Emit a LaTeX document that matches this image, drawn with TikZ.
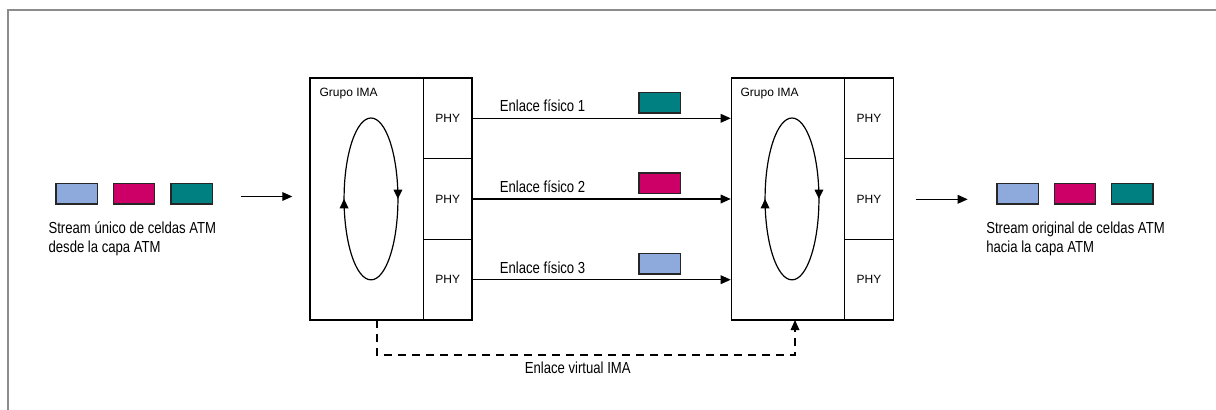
\documentclass[tikz,border=0pt]{standalone}
\usepackage{fontspec}
\setmainfont{Liberation Sans}
\newfontfamily\narrowsans[FakeStretch=0.82]{Liberation Sans}
\usetikzlibrary{arrows.meta,decorations.markings}
\definecolor{cellblue}{RGB}{142,170,220}
\definecolor{cellmag}{RGB}{204,0,102}
\definecolor{cellteal}{RGB}{0,128,128}
\definecolor{framegray}{RGB}{140,140,140}
\begin{document}
\begin{tikzpicture}[x=0.75pt,y=-0.75pt,
  tip/.style={-{Triangle[length=7.5pt,width=6.5pt]}},
  box/.style={draw=black,line width=0.9pt,inner sep=0pt,minimum width=#1},
  groupbox/.style={box=85pt,minimum height=181.5pt},
  phybox/.style={box=36.5pt,minimum height=60.5pt,font=\fontsize{9}{11}\selectfont},
  cell/.style={draw=black!85,line width=1pt,fill=#1,minimum width=31pt,minimum height=15.5pt,inner sep=0pt},
  lbl/.style={inner sep=0pt,font=\narrowsans\fontsize{12}{14.25}\selectfont},
  small/.style={inner sep=0pt,font=\fontsize{9}{11}\selectfont},
  line width=0.9pt]
\useasboundingbox (0,0) rectangle (1216,410);
\fill[white] (0,0) rectangle (1216,410);
% frame
\draw[framegray,line width=1.3pt] (8,410) -- (8,10) -- (1216,10);

% left stream
\node[cell=cellblue] (l1) at (76.7,193.5) {};
\node[cell=cellmag] (l2) at (134,193.5) {};
\node[cell=cellteal] (l3) at (191.5,193.5) {};
\node[lbl,anchor=north west,align=left] (ltext) at (48,221.5) {Stream único de celdas ATM\\desde la capa ATM};
\coordinate (ina) at (240.7,196.5);
\coordinate (inb) at (292.3,196.5);
\draw[tip] (ina) -- (inb);

% left IMA group
\node[groupbox] (grpL) at (366.7,199) {};
\node[small,anchor=base west] (grpLt) at (319,96.5) {Grupo IMA};
\node[phybox] (phyL1) at (447.7,118.3) {PHY};
\node[phybox] (phyL2) at (447.7,199) {PHY};
\node[phybox] (phyL3) at (447.7,279.7) {PHY};
\draw[postaction=decorate,decoration={markings,
   mark=at position 0.25 with {\arrow{Triangle[length=7pt,width=6.5pt]}},
   mark=at position 0.75 with {\arrow{Triangle[length=7pt,width=6.5pt]}}}]
   (371,118) arc[start angle=90,end angle=-270,x radius=20.2pt,y radius=60.7pt];

% right IMA group
\node[groupbox] (grpR) at (788,199) {};
\node[small,anchor=base west] (grpRt) at (740,96.5) {Grupo IMA};
\node[phybox] (phyR1) at (869,118.3) {PHY};
\node[phybox] (phyR2) at (869,199) {PHY};
\node[phybox] (phyR3) at (869,279.7) {PHY};
\draw[postaction=decorate,decoration={markings,
   mark=at position 0.25 with {\arrow{Triangle[length=7pt,width=6.5pt]}},
   mark=at position 0.75 with {\arrow{Triangle[length=7pt,width=6.5pt]}}}]
   (792,118) arc[start angle=90,end angle=-270,x radius=20.2pt,y radius=60.7pt];

% physical links
\draw[tip] (phyL1.east) -- (grpR.west |- phyL1.east);
\draw[tip] (phyL2.east) -- (grpR.west |- phyL2.east);
\draw[tip] (phyL3.east) -- (grpR.west |- phyL3.east);
\node[lbl,anchor=base west] (e1) at (499.3,111.7) {Enlace físico 1};
\node[lbl,anchor=base west] (e2) at (499.3,192.3) {Enlace físico 2};
\node[lbl,anchor=base west] (e3) at (499.3,273) {Enlace físico 3};
\node[cell=cellteal] (c1) at (659.7,102.5) {};
\node[cell=cellmag] (c2) at (659.7,183.2) {};
\node[cell=cellblue] (c3) at (659.7,263.7) {};

% virtual link
\coordinate (vs) at (377,320);
\coordinate (ve) at (795,320);
\draw[tip,dash pattern=on 6pt off 4.5pt] (vs) -- ++(0,35) -| (ve);
\node[lbl,anchor=base west] (ev) at (524.3,373.3) {Enlace virtual IMA};

% right stream
\coordinate (outa) at (915.7,199.3);
\coordinate (outb) at (967.7,199.3);
\draw[tip] (outa) -- (outb);
\node[cell=cellblue] (r1) at (1017.5,193.7) {};
\node[cell=cellmag] (r2) at (1075,193.7) {};
\node[cell=cellteal] (r3) at (1132.3,193.7) {};
\node[lbl,anchor=north west,align=left] (rtext) at (985.7,221.5) {Stream original de celdas ATM\\hacia la capa ATM};
\end{tikzpicture}
\end{document}
